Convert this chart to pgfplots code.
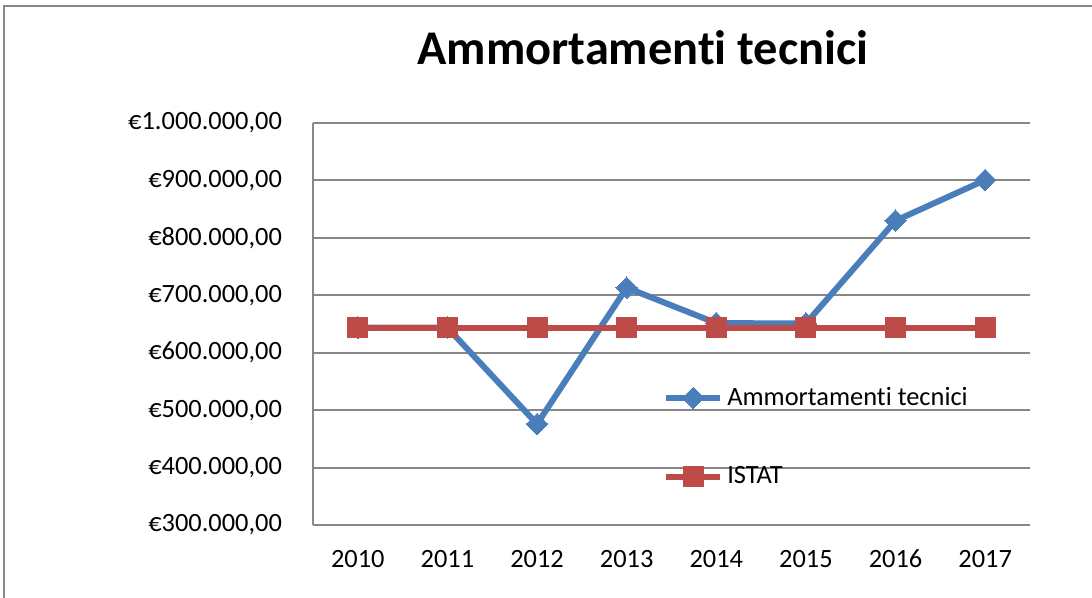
\documentclass[border=0pt]{standalone}
\usepackage{pgfplots}
\pgfplotsset{compat=1.18}
\usepackage{fontspec}
\setmainfont{Carlito}[RawFeature=-liga]
\definecolor{serblue}{HTML}{4A7EBB}
\definecolor{serred}{HTML}{BE4B48}
\definecolor{gridgray}{HTML}{878787}
\begin{document}
\begin{tikzpicture}
\path[use as bounding box] (0,0) rectangle (546pt,299pt);
\begin{axis}[
  at={(156.5pt,36.5pt)}, anchor=south west,
  scale only axis, width=358.5pt, height=201pt,
  xmin=-0.5, xmax=7.5, ymin=300000, ymax=1000000,
  xtick={0,1,2,3,4,5,6,7},
  xticklabels={2010,2011,2012,2013,2014,2015,2016,2017},
  ytick={300000,400000,500000,600000,700000,800000,900000,1000000},
  yticklabels={{€300.000,00},{€400.000,00},{€500.000,00},{€600.000,00},{€700.000,00},{€800.000,00},{€900.000,00},{€1.000.000,00}},
  scaled y ticks=false,
  major tick length=0pt,
  ymajorgrids, grid style={gridgray, line width=1pt},
  axis x line*=bottom, axis y line*=left,
  axis line style={gridgray, line width=1pt, -},
  tick label style={font=\fontsize{13.2}{15}\selectfont},
  yticklabel style={anchor=east, xshift=-12pt},
  xticklabel style={anchor=base, yshift=-21.5pt},
  clip=false,
  legend style={at={(axis description cs:0.488,0.219)}, anchor=west, draw=none, fill=none,
    font=\fontsize{13.2}{15}\selectfont, row sep=25pt, inner sep=0pt,
    legend cell align=left},
  legend image code/.code={\draw[mark repeat=2,mark phase=2,#1] plot coordinates {(0pt,0pt) (13.5pt,0pt) (27pt,0pt)};},
]
\addplot[serblue, line width=3pt, mark=square*, mark size=3.8pt, mark options={solid, line width=0pt, rotate=45}]
 coordinates {(0,643600) (1,643600) (2,475900) (3,713200) (4,651500) (5,651000) (6,829900) (7,900700)};
\addlegendentry{Ammortamenti tecnici}
\addplot[serred, line width=3pt, mark=square*, mark size=5pt, mark options={solid, line width=0pt}]
 coordinates {(0,643600) (1,643600) (2,643600) (3,643600) (4,643600) (5,643600) (6,643600) (7,643600)};
\addlegendentry{ISTAT}
\end{axis}
\node[font=\bfseries\fontsize{24.2}{28}\selectfont] at (321.5pt,275pt) {Ammortamenti tecnici};
\draw[gridgray, line width=1pt] (2pt,-20pt) -- (2pt,296pt) -- (600pt,296pt);
\end{tikzpicture}
\end{document}
